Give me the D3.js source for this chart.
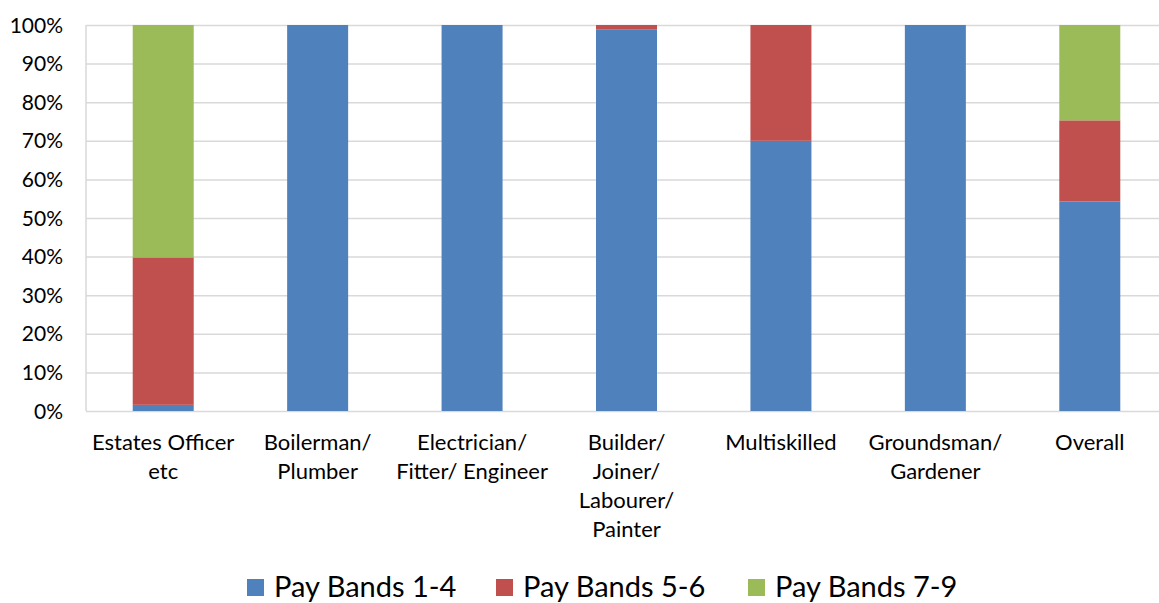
<!DOCTYPE html>
<html><head><meta charset="utf-8">
<script src="https://cdn.jsdelivr.net/npm/d3@7"></script>
<style>
html,body{margin:0;padding:0;background:#fff;}
svg{display:block;font-family:Lato, "Open Sans", sans-serif;}
</style></head>
<body>
<svg id="chart" width="1159" height="603"></svg>
<script>
const categories = [
  ["Estates Officer", "etc"],
  ["Boilerman/", "Plumber"],
  ["Electrician/", "Fitter/ Engineer"],
  ["Builder/", "Joiner/", "Labourer/", "Painter"],
  ["Multiskilled"],
  ["Groundsman/", "Gardener"],
  ["Overall"]
];
const seriesNames = ["Pay Bands 1-4", "Pay Bands 5-6", "Pay Bands 7-9"];
const payBands14 = [1.6, 100, 100, 98.9, 70, 100, 54.3];
const payBands56 = [38.2, 0, 0, 1.1, 30, 0, 21.0];
const payBands79 = [60.2, 0, 0, 0, 0, 0, 24.7];
const yTicks = [0, 10, 20, 30, 40, 50, 60, 70, 80, 90, 100];
const colors = ["#4f81bd", "#c0504d", "#9bbb59"];

(function () {
const svg = d3.select("#chart");
const pL = 86, pR = 1167, pT = 25, pB = 411;

const keys = categories.map((c, i) => i);
const x = d3.scaleBand().domain(keys).range([pL, pR]).paddingInner(0.605).paddingOuter(0.3025);
const y = d3.scaleLinear().domain([0, 100]).range([pB, pT]);

// gridlines
const yAxis = d3.axisLeft(y).tickValues(yTicks).tickFormat(d => d + "%").tickSize(-(pR - pL)).tickPadding(23);
const gy = svg.append("g").attr("transform", `translate(${pL},0)`).call(yAxis);
gy.select(".domain").remove();
gy.selectAll(".tick line").attr("stroke", "#d9d9d9").attr("stroke-width", 1.5);
gy.selectAll(".tick text").attr("font-size", 21).attr("fill", "#000").attr("font-family", "Lato, sans-serif").attr("dy", "0.34em");
// left axis line
svg.append("line").attr("x1", pL).attr("x2", pL).attr("y1", pT).attr("y2", pB).attr("stroke", "#d9d9d9").attr("stroke-width", 1.5);

// stacked data
const rows = keys.map(i => ({i, a: payBands14[i], b: payBands56[i], c: payBands79[i]}));
const stacked = d3.stack().keys(["a", "b", "c"])(rows);

svg.append("g").selectAll("g").data(stacked).join("g")
  .attr("fill", (d, k) => colors[k])
  .selectAll("rect").data(d => d).join("rect")
  .attr("x", d => x(d.data.i))
  .attr("width", x.bandwidth())
  .attr("y", d => y(d[1]))
  .attr("height", d => y(d[0]) - y(d[1]));

// category labels
const lab = svg.append("g").attr("font-size", 22).attr("text-anchor", "middle").attr("fill", "#000");
categories.forEach((lines, i) => {
  const cx = x(i) + x.bandwidth() / 2;
  const t = lab.append("text").attr("x", cx).attr("y", 450);
  lines.forEach((ln, j) => t.append("tspan").attr("x", cx).attr("y", 450 + j * 29).text(ln));
});

// legend
const legendX = [247, 496, 748];
const lg = svg.append("g");
seriesNames.forEach((n, k) => {
  lg.append("rect").attr("x", legendX[k]).attr("y", 579).attr("width", 17).attr("height", 17).attr("fill", colors[k]);
  lg.append("text").attr("x", legendX[k] + 27).attr("y", 597).attr("font-size", 29).attr("fill", "#000").text(n);
});
})();
</script>
</body></html>
